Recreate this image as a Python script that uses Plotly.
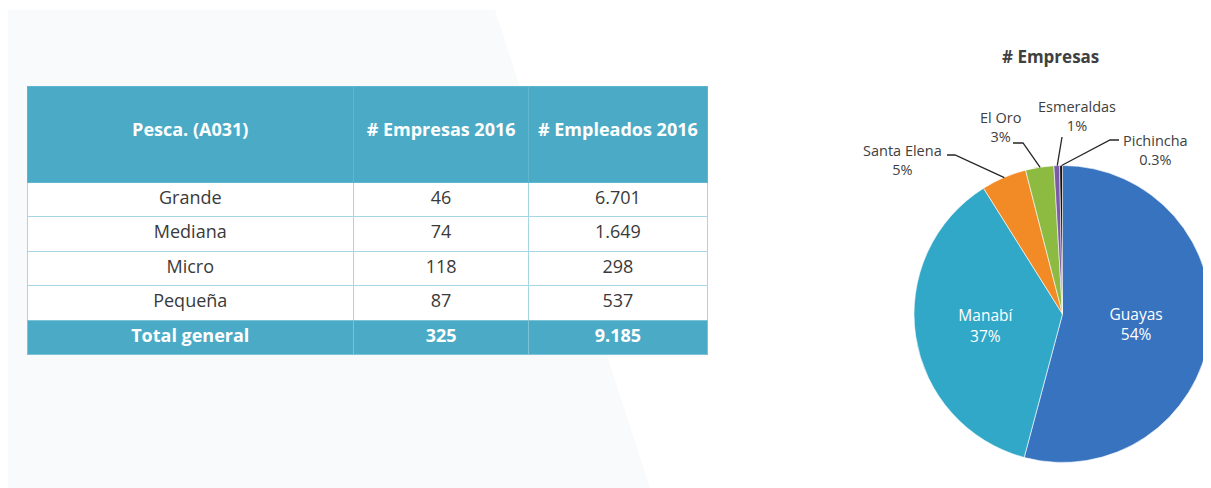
import math
import plotly.graph_objects as go

W, H = 1211, 488
OFF = 8                      # browser body margin
FW, FH = W - OFF, H - OFF

# table data
tamanos = ["Grande", "Mediana", "Micro", "Pequeña", "Total general"]
empresas_2016 = ["46", "74", "118", "87", "325"]
empleados_2016 = ["6.701", "1.649", "298", "537", "9.185"]
encabezados = ["Pesca. (A031)", "# Empresas 2016", "# Empleados 2016"]

# pie data (# empresas por provincia)
provincias = ["Guayas", "Manabí", "Santa Elena", "El Oro", "Esmeraldas", "Pichincha"]
empresas_prov = [176, 120, 16, 10, 2, 1]
colores = ["#3873c0", "#32a8c8", "#f28b25", "#8dba41", "#7b5ba6", "#111111"]

TEAL = "#4babc6"
FONT = "Open Sans"
ROW_H = 34.5
COLW = [326, 175, 178]


def px(x, y):
    # reference pixel -> paper coords
    return (x - OFF) / FW, 1 - (y - OFF) / FH


fig = go.Figure()

cols = [tamanos, empresas_2016, empleados_2016]
tx0, ty1 = px(27, 86)
tx1, _ = px(707, 86)

# header + detail rows
fig.add_trace(go.Table(
    domain=dict(x=[tx0, tx1], y=[0, ty1]),
    columnwidth=COLW,
    header=dict(
        values=[f"&nbsp;<br><b>{h}</b>" for h in encabezados],
        fill_color=TEAL,
        line=dict(color="#5fb6cf", width=1),
        font=dict(family=FONT, size=18, color="white"),
        align="center",
        height=96,
    ),
    cells=dict(
        values=[c[:-1] for c in cols],
        fill_color="white",
        line=dict(color="#a6d6e3", width=1),
        font=dict(family=FONT, size=18, color="#3a3a3a"),
        align="center",
        height=ROW_H,
    ),
))

# total row (drawn as the header of a second table so it can be bold)
_, ty_tot = px(27, 86 + 96 + 4 * ROW_H)
fig.add_trace(go.Table(
    domain=dict(x=[tx0, tx1], y=[0, ty_tot]),
    columnwidth=COLW,
    header=dict(
        values=[c[-1] for c in cols],
        fill_color=TEAL,
        line=dict(color="#7cc3d6", width=1),
        font=dict(family=FONT, size=18, color="white", weight="bold"),
        align="center",
        height=ROW_H,
    ),
    cells=dict(values=[[], [], []]),
))

total = sum(empresas_prov)
big = [v / total >= 0.2 for v in empresas_prov]
px0, py0 = px(914, 463)
_, py1 = px(914, 165)
fig.add_trace(go.Pie(
    labels=provincias,
    values=empresas_prov,
    sort=False,
    direction="clockwise",
    rotation=0,
    marker=dict(colors=colores, line=dict(color="white", width=0.6)),
    texttemplate=["%{label}<br>%{percent:.0%}" if b else "" for b in big],
    textposition="inside",
    insidetextorientation="horizontal",
    textfont=dict(family=FONT, size=15.5, color="white"),
    domain=dict(x=[px0, 1.0], y=[py0, py1]),
    showlegend=False,
    hoverinfo="label+value+percent",
))

# outside labels with leader lines for the small slices
cx, cy, r = 1063, 314, 148.5
label_pos = {
    "Santa Elena": ((902, 160), (947, 155), (955, 155)),
    "El Oro": ((1000, 127), (1013, 143), (1023, 143)),
    "Esmeraldas": ((1077, 116), (1062, 137), (1062, 137)),
    "Pichincha": ((1155, 150), (1119, 140), (1110, 140)),
}

bg = [px(8, 10), px(495, 10), px(650, 488), px(8, 488)]
shapes = [dict(type="path", xref="paper", yref="paper", layer="below",
               path="M " + " L ".join(f"{a} {b}" for a, b in bg) + " Z",
               fillcolor="#f8fafc", line=dict(width=0))]
tx, ty = px(1050, 57)
annotations = [dict(text="<b># Empresas</b>", x=tx, y=ty, xref="paper", yref="paper",
                    xanchor="center", yanchor="middle", showarrow=False,
                    font=dict(family=FONT, size=17, color="#404040"))]
cum = 0
for name, v in zip(provincias, empresas_prov):
    mid = (cum + v / 2) / total * 2 * math.pi
    cum += v
    if name not in label_pos:
        continue
    pct = v / total * 100
    pct_txt = f"{pct:.1f}%" if pct < 0.5 else f"{pct:.0f}%"
    (lx, ly), (ax, ay), (ex, ey) = label_pos[name]
    ax_, ay_ = px(lx, ly)
    annotations.append(dict(text=f"{name}<br>{pct_txt}", x=ax_, y=ay_,
                            xref="paper", yref="paper", xanchor="center", yanchor="middle",
                            showarrow=False,
                            font=dict(family=FONT, size=14.5, color="#404040")))
    sx, sy = cx + r * math.sin(mid), cy - r * math.cos(mid)
    pts = [px(ax, ay), px(ex, ey), px(sx, sy)]
    path = "M {} {} L {} {} L {} {}".format(*[c for p in pts for c in p])
    shapes.append(dict(type="path", xref="paper", yref="paper", path=path,
                       line=dict(color="#262626", width=1.3)))

fig.update_layout(
    width=FW, height=FH,
    margin=dict(l=0, r=0, t=0, b=0),
    paper_bgcolor="white",
    plot_bgcolor="white",
    shapes=shapes,
    annotations=annotations,
    font=dict(family=FONT),
)

fig.write_html("out.html")
